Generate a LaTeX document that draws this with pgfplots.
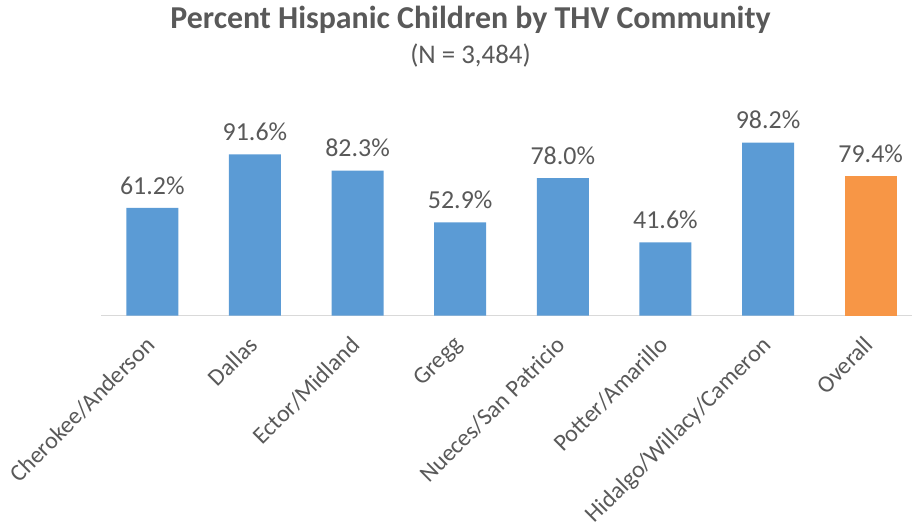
\documentclass[border=0pt]{standalone}
\usepackage{pgfplots}
\pgfplotsset{compat=1.18}
\usepackage{fontspec}
\setmainfont{Carlito}
\definecolor{txt}{HTML}{595959}
\definecolor{barblue}{HTML}{5B9BD5}
\definecolor{barorange}{HTML}{F79646}
\definecolor{axisgray}{HTML}{D9D9D9}
\begin{document}
\begin{tikzpicture}
\useasboundingbox (0,0) rectangle (912bp,525bp);
\node[text=txt, font=\fontsize{32}{36}\selectfont\bfseries, anchor=base, inner sep=0pt] at (470.5bp,496bp) {Percent Hispanic Children by THV Community};
\node[text=txt, font=\fontsize{27}{30}\selectfont, anchor=base, inner sep=0pt] at (470.5bp,461bp) {(N = 3,484)};
\begin{axis}[
  at={(101bp,209.5bp)}, anchor=south west,
  scale only axis, width=821bp, height=176bp,
  xmin=-0.5, xmax=7.5, ymin=0, ymax=100,
  axis x line*=bottom, axis y line=none,
  x axis line style={draw=axisgray, line width=1.2pt, -},
  xtick={0,...,7}, major tick length=0pt,
  xticklabels={Cherokee/Anderson, Dallas, Ector/Midland, Gregg, Nueces/San Patricio, Potter/Amarillo, Hidalgo/Willacy/Cameron, Overall},
  xticklabel style={rotate=45, anchor=north east, text=txt, font=\fontsize{24}{28}\selectfont, inner sep=0pt, xshift=-19bp, yshift=-8bp},
  ytick=\empty,
  clip=false,
  ybar, bar width=52bp, bar shift=0pt,
  /pgf/number format/assume math mode=true,
  nodes near coords={\pgfmathprintnumber[fixed, fixed zerofill, precision=1, assume math mode=true]{\pgfplotspointmeta}\%},
  nodes near coords style={text=txt, font=\fontsize{26}{30}\selectfont, yshift=10bp},
]
\addplot[fill=barblue, draw=none] coordinates {(0,61.2) (1,91.6) (2,82.3) (3,52.9) (4,78.0) (5,41.6) (6,98.2)};
\addplot[fill=barorange, draw=none] coordinates {(7,79.4)};
\end{axis}
\end{tikzpicture}
\end{document}
